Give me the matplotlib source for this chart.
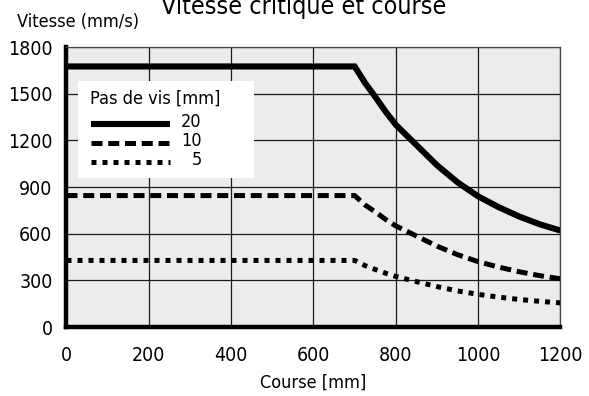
import matplotlib.pyplot as plt
from matplotlib.patches import Rectangle

plt.rcParams["font.family"] = ["DejaVu Sans"]
plt.rcParams["font.stretch"] = "condensed"

# course en mm, vitesse critique en mm/s pour chaque pas de vis
course = [0, 700, 725, 750, 775, 800, 850, 900, 950, 1000, 1050, 1100, 1150, 1200]
pas_20 = [1675, 1675, 1570, 1480, 1385, 1300, 1170, 1040, 930, 840, 770, 710, 660, 620]
pas_10 = [845, 845, 785, 740, 692, 650, 585, 520, 465, 420, 385, 355, 330, 310]
pas_5 = [428, 428, 395, 370, 346, 325, 292, 260, 232, 210, 192, 177, 165, 155]

x_ticks = [0, 200, 400, 600, 800, 1000, 1200]
y_ticks = [0, 300, 600, 900, 1200, 1500, 1800]
legend_labels = ["20", "10", "5"]

styles = [
    dict(color="black", lw=4.4, solid_capstyle="butt", solid_joinstyle="miter"),
    dict(color="black", lw=3.6, dashes=(2.2, 1.15), dash_capstyle="butt"),
    dict(color="black", lw=3.6, dashes=(1.0, 1.2), dash_capstyle="butt"),
]

fig = plt.figure(figsize=(5.89, 3.96), dpi=100)
ax = fig.add_axes([0.1129, 0.1742, 0.8387, 0.7071])
ax.set_facecolor("#ececec")

for values, style in zip([pas_20, pas_10, pas_5], styles):
    ax.plot(course, values, zorder=3, **style)

ax.set_xlim(0, 1200)
ax.set_ylim(0, 1800)
ax.set_xticks(x_ticks)
ax.set_yticks(y_ticks)
ax.tick_params(axis="both", length=0, labelsize=14)
ax.tick_params(axis="x", pad=14)
ax.tick_params(axis="y", pad=10)
ax.grid(True, color="#1a1a1a", lw=0.9)
ax.set_axisbelow(True)

for side in ("left", "bottom"):
    ax.spines[side].set_linewidth(3.2)
    ax.spines[side].set_color("black")
for side in ("top", "right"):
    ax.spines[side].set_linewidth(0.9)
    ax.spines[side].set_color("#444444")

ax.set_xlabel("Course [mm]", fontsize=13, labelpad=6)

# legende : cadre blanc sans bordure, trait a gauche, pas a droite
ax.add_patch(Rectangle((0.0233, 0.532), 0.3563, 0.3464, transform=ax.transAxes,
                       facecolor="white", edgecolor="none", zorder=2.5))
ax.text(0.0476, 0.814, "Pas de vis [mm]", transform=ax.transAxes,
        fontsize=13, va="center", ha="left", zorder=4)
for y, label, style in zip([0.725, 0.657, 0.589], legend_labels, styles):
    ax.plot([0.0496, 0.2095], [y, y], transform=ax.transAxes, zorder=4, **style)
    ax.text(0.274, y + 0.008, label, transform=ax.transAxes,
            fontsize=13, va="center", ha="right", zorder=4)

fig.text(0.029, 0.944, "Vitesse (mm/s)", fontsize=13, va="center", ha="left")
fig.text(0.515, 0.965, "Vitesse critique et course", fontsize=18,
         va="baseline", ha="center")

fig.savefig("out.png", dpi=100)
